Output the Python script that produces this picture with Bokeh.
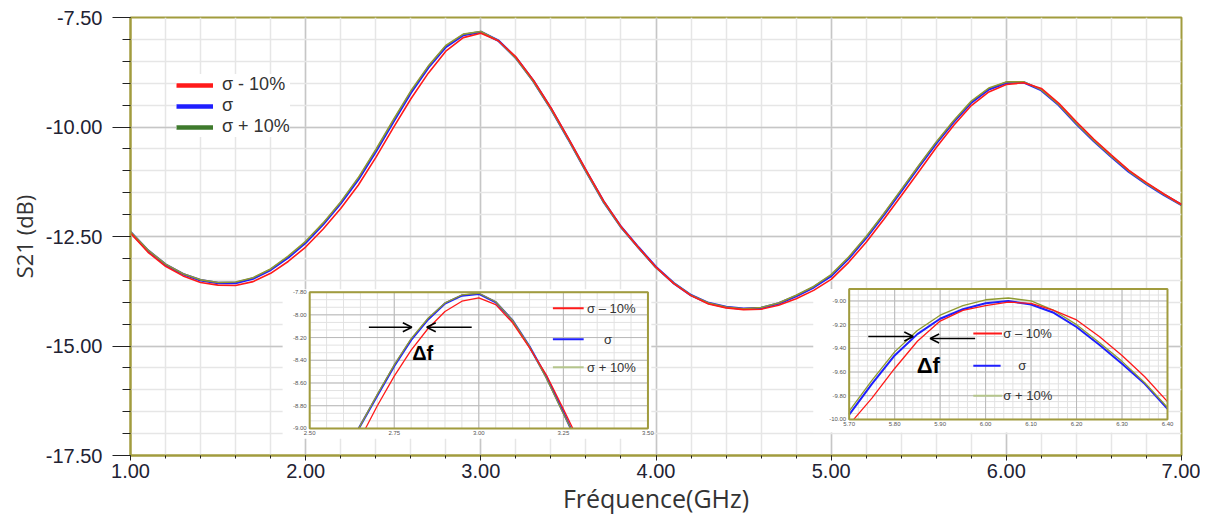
import numpy as np
from bokeh.plotting import figure
from bokeh.models import (Range1d, Legend, LegendItem, PrintfTickFormatter,
                          SingleIntervalTicker, Arrow, OpenHead)
from bokeh.core.properties import value
from bokeh.embed import file_html
from bokeh.resources import INLINE

# ---------------- main data (GHz, dB) ----------------
freq = [1.0, 1.1, 1.2, 1.3, 1.4, 1.5, 1.6, 1.7, 1.8, 1.9,
        2.0, 2.1, 2.2, 2.3, 2.4, 2.5, 2.6, 2.7, 2.8, 2.9,
        3.0, 3.1, 3.2, 3.3, 3.4, 3.5, 3.6, 3.7, 3.8, 3.9,
        4.0, 4.1, 4.2, 4.3, 4.4, 4.5, 4.6, 4.7, 4.8, 4.9,
        5.0, 5.1, 5.2, 5.3, 5.4, 5.5, 5.6, 5.7, 5.8, 5.9,
        6.0, 6.1, 6.2, 6.3, 6.4, 6.5, 6.6, 6.7, 6.8, 6.9, 7.0]

s21_nominal = [-12.40, -12.82, -13.14, -13.36, -13.50, -13.56, -13.56, -13.46, -13.26, -12.98,
               -12.64, -12.22, -11.74, -11.20, -10.56, -9.88, -9.22, -8.64, -8.17, -7.90,
               -7.83, -8.03, -8.42, -8.95, -9.58, -10.28, -11.00, -11.70, -12.28, -12.75,
               -13.20, -13.56, -13.84, -14.02, -14.11, -14.15, -14.13, -14.03, -13.86, -13.66,
               -13.40, -13.00, -12.53, -12.01, -11.46, -10.91, -10.37, -9.88, -9.44, -9.14,
               -8.99, -8.98, -9.16, -9.50, -9.93, -10.32, -10.68, -11.02, -11.30, -11.55, -11.78]

s21_minus10 = [-12.42, -12.86, -13.18, -13.40, -13.55, -13.61, -13.62, -13.53, -13.34, -13.07,
               -12.74, -12.33, -11.86, -11.33, -10.70, -10.02, -9.36, -8.77, -8.27, -7.96,
               -7.86, -8.03, -8.40, -8.93, -9.56, -10.26, -10.98, -11.68, -12.27, -12.75,
               -13.20, -13.57, -13.85, -14.04, -14.13, -14.17, -14.16, -14.07, -13.92, -13.73,
               -13.48, -13.09, -12.63, -12.11, -11.57, -11.02, -10.47, -9.96, -9.51, -9.20,
               -9.03, -8.99, -9.12, -9.46, -9.88, -10.28, -10.64, -10.99, -11.27, -11.53, -11.77]

s21_plus10 = [-12.39, -12.81, -13.13, -13.35, -13.49, -13.55, -13.54, -13.44, -13.24, -12.95,
              -12.61, -12.19, -11.71, -11.16, -10.52, -9.84, -9.18, -8.61, -8.14, -7.88,
              -7.82, -8.03, -8.43, -8.96, -9.59, -10.29, -11.01, -11.71, -12.29, -12.76,
              -13.21, -13.56, -13.84, -14.02, -14.11, -14.15, -14.12, -14.02, -13.84, -13.64,
              -13.37, -12.97, -12.50, -11.98, -11.43, -10.88, -10.34, -9.85, -9.41, -9.11,
              -8.97, -8.97, -9.15, -9.49, -9.92, -10.31, -10.67, -11.01, -11.29, -11.54, -11.78]

legend_labels = ["σ - 10%", "σ", "σ + 10%"]

# ---------------- inset 1 data (zoom near 3 GHz) ----------------
in1_f_nom = [2.645, 2.70, 2.75, 2.80, 2.85, 2.90, 2.95, 3.00, 3.05, 3.10, 3.15, 3.20, 3.25, 3.272]
in1_nom = [-9.00, -8.71, -8.45, -8.22, -8.04, -7.90, -7.83, -7.815, -7.89, -8.05, -8.28, -8.55, -8.86, -9.00]
in1_plus = [-9.00, -8.70, -8.44, -8.21, -8.03, -7.895, -7.825, -7.81, -7.885, -8.05, -8.28, -8.56, -8.87, -9.00]
in1_f_minus = [2.665, 2.70, 2.75, 2.80, 2.85, 2.90, 2.95, 3.00, 3.05, 3.10, 3.15, 3.20, 3.25, 3.278]
in1_minus = [-9.00, -8.80, -8.54, -8.31, -8.12, -7.97, -7.88, -7.85, -7.91, -8.07, -8.29, -8.53, -8.83, -9.00]
in1_xticks = [2.50, 2.75, 3.00, 3.25, 3.50]
in1_yticks = [-7.80, -8.00, -8.20, -8.40, -8.60, -8.80, -9.00]
in1_labels = ["σ – 10%", "σ", "σ + 10%"]

# ---------------- inset 2 data (zoom near 6 GHz) ----------------
in2_f = [5.70, 5.75, 5.80, 5.85, 5.90, 5.95, 6.00, 6.05, 6.10, 6.15, 6.20, 6.25, 6.30, 6.35, 6.40]
in2_nom = [-9.96, -9.70, -9.46, -9.28, -9.15, -9.07, -9.02, -9.00, -9.03, -9.10, -9.22, -9.37, -9.53, -9.70, -9.91]
in2_plus = [-9.93, -9.67, -9.43, -9.25, -9.12, -9.04, -8.99, -8.975, -9.00, -9.08, -9.20, -9.35, -9.51, -9.69, -9.90]
in2_f_minus = [5.71, 5.75, 5.80, 5.85, 5.90, 5.95, 6.00, 6.05, 6.10, 6.15, 6.20, 6.25, 6.30, 6.35, 6.40]
in2_minus = [-10.00, -9.82, -9.57, -9.34, -9.17, -9.08, -9.04, -9.01, -9.02, -9.08, -9.16, -9.30, -9.46, -9.64, -9.85]
in2_xticks = [5.70, 5.80, 5.90, 6.00, 6.10, 6.20, 6.30, 6.40]
in2_yticks = [-9.00, -9.20, -9.40, -9.60, -9.80, -10.00]

# ---------------- styles ----------------
OLIVE = "#a19c3e"
RED = "#ff1a1a"
BLUE = "#1f1fff"
GREEN_LINE = "#8f9a30"
GREEN_LEG = "#3e7a2c"
TXT = "#222233"
FONT = "Liberation Sans"

p = figure(width=1200, height=518, x_range=Range1d(1, 7), y_range=Range1d(-17.5, -7.5),
           output_backend="svg", toolbar_location=None,
           min_border_left=130, min_border_right=19, min_border_top=17, min_border_bottom=63)
p.background_fill_color = "white"
p.border_fill_color = "white"
p.outline_line_color = OLIVE
p.outline_line_width = 2
p.outline_line_alpha = 1

p.xaxis.ticker = SingleIntervalTicker(interval=1, num_minor_ticks=5)
p.yaxis.ticker = SingleIntervalTicker(interval=2.5, num_minor_ticks=5)
p.xaxis.formatter = PrintfTickFormatter(format="%.2f")
p.yaxis.formatter = PrintfTickFormatter(format="%.2f")

for ax in (p.xaxis, p.yaxis):
    ax.axis_line_color = OLIVE
    ax.axis_line_width = 2
    ax.major_tick_line_color = "#222"
    ax.minor_tick_line_color = "#222"
    ax.major_tick_in = 0
    ax.minor_tick_in = 0
    ax.major_label_text_font = FONT
    ax.major_label_text_font_size = "20px"
    ax.major_label_text_color = TXT
    ax.axis_label_text_font = "Open Sans"
    ax.axis_label_text_font_style = "normal"
    ax.axis_label_text_color = "#333333"

p.xaxis.axis_label_text_font_size = "25px"
p.yaxis.axis_label_text_font_size = "22px"
p.xaxis.major_tick_out = 5
p.xaxis.minor_tick_out = 3
p.xaxis.major_label_standoff = 3
p.xaxis.axis_label_standoff = 0
p.yaxis.major_tick_out = 18
p.yaxis.minor_tick_out = 8
p.yaxis.major_label_standoff = 10
p.yaxis.axis_label_standoff = 4
p.xaxis.axis_label = "Fréquence(GHz)"
p.yaxis.axis_label = "S21 (dB)"

for g in (p.xgrid, p.ygrid):
    g.grid_line_color = "#c6c6c6"
    g.grid_line_width = 1.5
    g.minor_grid_line_color = "#e6e6e6"
    g.minor_grid_line_width = 1.5

# ---------------- insets set-up ----------------
in1_map = dict(x_source=Range1d(2.5, 3.5), y_source=Range1d(-9.0, -7.8),
               x_target=Range1d(2.0229, 3.954), y_target=Range1d(-16.882, -13.770))
in2_map = dict(x_source=Range1d(5.7, 6.4), y_source=Range1d(-10.0, -8.9),
               x_target=Range1d(5.1029, 6.92), y_target=Range1d(-16.676, -13.701))
sub1 = p.subplot(**in1_map)
sub2 = p.subplot(**in2_map)


def to_main(m, x, y):
    xs, ys, xt, yt = m["x_source"], m["y_source"], m["x_target"], m["y_target"]
    return (xt.start + (x - xs.start) / (xs.end - xs.start) * (xt.end - xt.start),
            yt.start + (y - ys.start) / (ys.end - ys.start) * (yt.end - yt.start))


# white backgrounds of the inset pictures
sub1.quad(left=2.42, right=3.51, bottom=-9.09, top=-7.774, fill_color="white", line_color=None)
sub2.quad(left=5.621, right=6.402, bottom=-10.11, top=-8.9, fill_color="white", line_color=None)

# ---------------- main curves ----------------
p.line(freq, s21_nominal, line_color=BLUE, line_width=2.5)
p.line(freq, s21_plus10, line_color=GREEN_LINE, line_width=1.6)
p.line(freq, s21_minus10, line_color=RED, line_width=1.6)

# legend (thick swatches; renderers hold off-range points only)
r_leg = [p.line([0.0, 0.5], [-20.0, -20.0], line_color=c, line_width=4.5)
         for c in (RED, BLUE, GREEN_LEG)]
legend = Legend(items=[LegendItem(label=l, renderers=[r]) for l, r in zip(legend_labels, r_leg)],
                location=(46, 318), orientation="vertical", border_line_color=None,
                background_fill_color="white", background_fill_alpha=1.0,
                padding=10, spacing=0, margin=0, label_height=18, glyph_height=18,
                glyph_width=37, label_standoff=9,
                label_text_font=FONT, label_text_font_size="18px", label_text_color="#333")
p.add_layout(legend)


def draw_inset(sub, m, xticks, yticks, xminor, yminor, curves, legend_rows, arrows, df_pos, df_size):
    x0, x1 = m["x_source"].start, m["x_source"].end
    y0, y1 = m["y_source"].start, m["y_source"].end
    sub.segment(x0=xminor, y0=y0, x1=xminor, y1=y1, line_color="#e2e2e2", line_width=1)
    sub.segment(x0=x0, y0=yminor, x1=x1, y1=yminor, line_color="#e2e2e2", line_width=1)
    sub.segment(x0=xticks, y0=y0, x1=xticks, y1=y1, line_color="#b9b9b9", line_width=1)
    sub.segment(x0=x0, y0=yticks, x1=x1, y1=yticks, line_color="#b9b9b9", line_width=1)
    sub.text(x=x0, y=yticks, text=["%.2f" % v for v in yticks], text_align="right",
             text_baseline="middle", x_offset=-3, text_font=value(FONT),
             text_font_size="6px", text_color="#555")
    sub.text(x=xticks, y=y0, text=["%.2f" % v for v in xticks], text_align="center",
             text_baseline="top", y_offset=3, text_font=value(FONT),
             text_font_size="6px", text_color="#555")
    for xs, ys, col, w in curves:
        sub.line(xs, ys, line_color=col, line_width=w)
    sub.quad(left=x0, right=x1, bottom=y0, top=y1, fill_color=None, line_color=OLIVE, line_width=2)
    for (lx0, lx1, ly, tx, label, col) in legend_rows:
        sub.segment(x0=[lx0], y0=[ly], x1=[lx1], y1=[ly], line_color=col, line_width=2)
        sub.text(x=[tx], y=[ly], text=[label], text_align="left", text_baseline="middle",
                 text_font=value(FONT), text_font_size="13px", text_color="#333")
    for (ax0, ay0, ax1, ay1) in arrows:
        xs0, ys0 = to_main(m, ax0, ay0)
        xs1, ys1 = to_main(m, ax1, ay1)
        p.add_layout(Arrow(x_start=xs0, y_start=ys0, x_end=xs1, y_end=ys1,
                           line_color="black", line_width=1.5,
                           end=OpenHead(size=9, line_color="black", line_width=1.5)))
    sub.text(x=[df_pos[0]], y=[df_pos[1]], text=["Δf"], text_align="center",
             text_baseline="middle", text_font=value(FONT), text_font_style="bold",
             text_font_size=df_size, text_color="black")


draw_inset(sub1, in1_map, in1_xticks, in1_yticks,
           np.arange(2.5, 3.5001, 0.05), np.linspace(-9.0, -7.8, 19),
           [(in1_f_nom, in1_nom, BLUE, 2.2), (in1_f_nom, in1_plus, GREEN_LINE, 1.3),
            (in1_f_minus, in1_minus, RED, 1.3)],
           [(3.219, 3.31, -7.941, 3.32, in1_labels[0], RED),
            (3.219, 3.31, -8.215, 3.37, in1_labels[1], BLUE),
            (3.219, 3.31, -8.462, 3.32, in1_labels[2], "#b5c58c")],
           [(2.675, -8.109, 2.802, -8.109), (2.979, -8.109, 2.846, -8.109)],
           (2.834, -8.338), "20px")

draw_inset(sub2, in2_map, in2_xticks, in2_yticks,
           np.arange(5.7, 6.4001, 0.02), np.arange(-10.0, -8.8999, 0.05),
           [(in2_f, in2_nom, BLUE, 2.0), (in2_f, in2_plus, GREEN_LINE, 1.3),
            (in2_f_minus, in2_minus, RED, 1.3)],
           [(5.973, 6.036, -9.274, 6.039, in1_labels[0], RED),
            (5.973, 6.033, -9.547, 6.072, in1_labels[1], BLUE),
            (5.973, 6.036, -9.80, 6.039, in1_labels[2], "#b5c58c")],
           [(5.742, -9.30, 5.841, -9.30), (5.977, -9.317, 5.878, -9.317)],
           (5.874, -9.547), "22px")

open("out.html", "w").write(file_html(p, INLINE))
